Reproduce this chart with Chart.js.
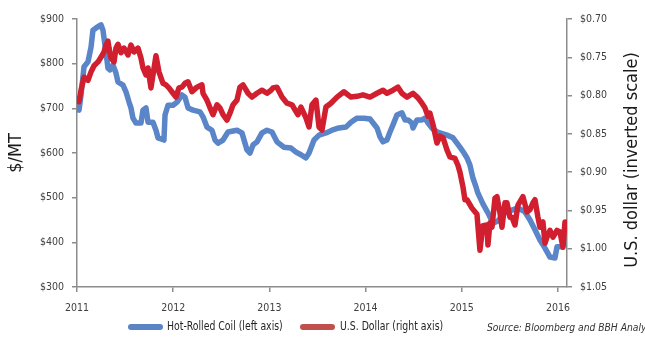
<!DOCTYPE html>
<html>
<head>
<meta charset="utf-8">
<script src="https://cdn.jsdelivr.net/npm/chart.js@4.4.1/dist/chart.umd.min.js"></script>
<style>
  html, body { margin: 0; padding: 0; background: #fff; }
  #wrap { position: relative; width: 645px; height: 346px; }
</style>
</head>
<body>
<div id="wrap"><canvas id="steelChart"></canvas></div>
<script>
// Hot-rolled coil price, $/MT (left axis)
const hrcYears = [
  2011.021, 2011.042, 2011.073, 2011.114, 2011.146, 2011.166, 2011.198, 2011.249, 2011.270, 2011.281,
  2011.301, 2011.322, 2011.343, 2011.374, 2011.405, 2011.426, 2011.478, 2011.509, 2011.541, 2011.561,
  2011.582, 2011.613, 2011.665, 2011.686, 2011.717, 2011.738, 2011.790, 2011.821, 2011.842, 2011.904,
  2011.915, 2011.946, 2011.998, 2012.040, 2012.091, 2012.123, 2012.154, 2012.206, 2012.279, 2012.310,
  2012.351, 2012.403, 2012.435, 2012.466, 2012.518, 2012.570, 2012.663, 2012.715, 2012.767, 2012.798,
  2012.830, 2012.871, 2012.923, 2012.975, 2013.027, 2013.079, 2013.152, 2013.225, 2013.277, 2013.328,
  2013.380, 2013.412, 2013.464, 2013.516, 2013.588, 2013.651, 2013.723, 2013.796, 2013.848, 2013.911,
  2013.983, 2014.046, 2014.119, 2014.150, 2014.181, 2014.222, 2014.254, 2014.285, 2014.326, 2014.378,
  2014.410, 2014.441, 2014.482, 2014.493, 2014.534, 2014.586, 2014.617, 2014.649, 2014.690, 2014.742,
  2014.805, 2014.846, 2014.909, 2014.950, 2014.981, 2015.023, 2015.054, 2015.085, 2015.116, 2015.148,
  2015.168, 2015.220, 2015.272, 2015.324, 2015.376, 2015.449, 2015.522, 2015.584, 2015.657, 2015.709,
  2015.761, 2015.813, 2015.865, 2015.917, 2015.969, 2015.990, 2016.042, 2016.062
];
const hrcPrices = [
  696, 730, 793, 804, 837, 875, 880, 887, 875, 857,
  826, 790, 786, 797, 779, 759, 752, 737, 714, 701,
  678, 667, 667, 696, 701, 669, 669, 651, 634, 629,
  685, 707, 707, 714, 730, 725, 701, 696, 692, 681,
  658, 651, 629, 622, 629, 647, 651, 645, 607, 600,
  618, 625, 645, 651, 647, 625, 613, 611, 602, 596,
  589, 600, 629, 640, 645, 651, 656, 658, 669, 678,
  678, 676, 656, 636, 625, 629, 647, 663, 685, 690,
  674, 674, 667, 656, 674, 674, 678, 667, 656, 647,
  643, 640, 634, 622, 613, 600, 589, 573, 544, 524,
  510, 486, 466, 443, 448, 466, 472, 477, 468, 450,
  428, 405, 387, 367, 365, 390, 390, 394
];

// U.S. dollar (right axis, inverted)
const usdYears = [
  2011.021, 2011.042, 2011.073, 2011.114, 2011.146, 2011.177, 2011.218, 2011.249, 2011.281, 2011.301,
  2011.322, 2011.333, 2011.353, 2011.385, 2011.405, 2011.426, 2011.457, 2011.489, 2011.530, 2011.561,
  2011.593, 2011.634, 2011.665, 2011.686, 2011.717, 2011.738, 2011.769, 2011.790, 2011.821, 2011.852,
  2011.894, 2011.925, 2011.956, 2011.998, 2012.029, 2012.060, 2012.091, 2012.123, 2012.154, 2012.195,
  2012.247, 2012.299, 2012.310, 2012.351, 2012.383, 2012.414, 2012.455, 2012.486, 2012.518, 2012.559,
  2012.590, 2012.622, 2012.663, 2012.694, 2012.726, 2012.778, 2012.819, 2012.871, 2012.923, 2012.975,
  2013.017, 2013.037, 2013.079, 2013.131, 2013.183, 2013.235, 2013.277, 2013.297, 2013.328, 2013.380,
  2013.412, 2013.443, 2013.484, 2013.516, 2013.547, 2013.588, 2013.640, 2013.703, 2013.775, 2013.848,
  2013.911, 2013.973, 2014.046, 2014.119, 2014.181, 2014.222, 2014.285, 2014.337, 2014.378, 2014.430,
  2014.493, 2014.545, 2014.586, 2014.617, 2014.649, 2014.669, 2014.701, 2014.742, 2014.773, 2014.805,
  2014.846, 2014.877, 2014.929, 2014.960, 2014.981, 2015.012, 2015.033, 2015.054, 2015.106, 2015.158,
  2015.189, 2015.220, 2015.262, 2015.272, 2015.293, 2015.314, 2015.345, 2015.366, 2015.397, 2015.418,
  2015.449, 2015.470, 2015.501, 2015.522, 2015.553, 2015.584, 2015.636, 2015.678, 2015.709, 2015.740,
  2015.761, 2015.792, 2015.813, 2015.844, 2015.865, 2015.886, 2015.917, 2015.948, 2015.990, 2016.021,
  2016.052, 2016.073
];
const usdValues = [
  0.808, 0.793, 0.776, 0.780, 0.769, 0.761, 0.756, 0.750, 0.743, 0.734,
  0.729, 0.738, 0.751, 0.756, 0.738, 0.733, 0.744, 0.738, 0.747, 0.734,
  0.743, 0.738, 0.751, 0.764, 0.773, 0.764, 0.790, 0.773, 0.748, 0.769,
  0.784, 0.786, 0.790, 0.797, 0.802, 0.790, 0.789, 0.784, 0.782, 0.795,
  0.789, 0.786, 0.797, 0.806, 0.816, 0.825, 0.812, 0.816, 0.825, 0.832,
  0.823, 0.812, 0.806, 0.789, 0.786, 0.797, 0.802, 0.797, 0.793, 0.797,
  0.793, 0.790, 0.789, 0.802, 0.810, 0.812, 0.821, 0.825, 0.815, 0.829,
  0.841, 0.812, 0.806, 0.841, 0.845, 0.815, 0.810, 0.802, 0.795, 0.802,
  0.801, 0.799, 0.802, 0.797, 0.793, 0.797, 0.793, 0.789, 0.797, 0.802,
  0.797, 0.803, 0.810, 0.816, 0.827, 0.823, 0.838, 0.862, 0.853, 0.855,
  0.871, 0.880, 0.882, 0.891, 0.900, 0.919, 0.936, 0.936, 0.947, 0.955,
  1.002, 0.970, 0.969, 0.995, 0.966, 0.972, 0.934, 0.932, 0.953, 0.972,
  0.940, 0.940, 0.959, 0.959, 0.969, 0.943, 0.932, 0.952, 0.949, 0.940,
  0.936, 0.959, 0.972, 0.965, 0.993, 0.985, 0.976, 0.985, 0.976, 0.978,
  0.998, 0.965
];

const seriesNames = ['Hot-Rolled Coil (left axis)', 'U.S. Dollar (right axis)'];
const leftTitle = '$/MT';
const rightTitle = 'U.S. dollar (inverted scale)';
const sourceNote = 'Source: Bloomberg and BBH Analysis';

const FONT = "'Liberation Sans Narrow', 'DejaVu Sans Condensed', 'Roboto', sans-serif";
const AXIS_GREY = '#8c8c8c';
const TICK_TEXT = '#404040';
const BLUE = '#5a85c8';
const RED = '#d21f30';
const LEGEND_COLORS = ['#5b84c4', '#c0504d'];

function pairs(xs, ys) {
  return xs.map((x, i) => ({ x: x, y: ys[i] }));
}

// text squeezed sideways so it reads like a narrow face
function narrowText(ctx, text, x, y, squeeze) {
  ctx.save();
  ctx.translate(x, y);
  ctx.scale(squeeze, 1);
  ctx.fillText(text, 0, 0);
  ctx.restore();
}

// right axis title (reads bottom-to-top), legend row and source line
const extras = {
  id: 'extras',
  afterDraw(chart) {
    const { ctx } = chart;
    ctx.save();

    ctx.fillStyle = '#1a1a1a';
    ctx.font = '18px ' + FONT;
    ctx.textAlign = 'center';
    ctx.textBaseline = 'middle';
    ctx.translate(632, 160);
    ctx.rotate(-Math.PI / 2);
    ctx.fillText(rightTitle, 0, 0);
    ctx.setTransform(1, 0, 0, 1, 0, 0);

    const legendY = 327;
    const items = [{ x: 128, tx: 167 }, { x: 300, tx: 340 }];
    ctx.textAlign = 'left';
    ctx.font = '12.5px ' + FONT;
    items.forEach((it, i) => {
      ctx.fillStyle = LEGEND_COLORS[i];
      ctx.beginPath();
      ctx.roundRect(it.x, legendY - 3, 35, 6, 3);
      ctx.fill();
      ctx.fillStyle = '#262626';
      narrowText(ctx, seriesNames[i], it.tx, legendY, 0.83);
    });

    ctx.font = 'italic 11px ' + FONT;
    ctx.fillStyle = '#333333';
    narrowText(ctx, sourceNote, 487, legendY + 1, 0.93);

    ctx.restore();
  }
};

const axisGrid = {
  drawOnChartArea: false,
  drawTicks: true,
  tickLength: 5,
  color: AXIS_GREY,
  lineWidth: 1.5
};
const axisBorder = { display: true, color: AXIS_GREY, width: 1.5 };
const tickFont = { family: FONT, size: 10.5 };

const config = {
  type: 'line',
  data: {
    datasets: [
      {
        label: seriesNames[0],
        data: pairs(hrcYears, hrcPrices),
        yAxisID: 'y',
        borderColor: BLUE,
        borderWidth: 5.5,
        pointRadius: 0,
        tension: 0,
        borderJoinStyle: 'round',
        borderCapStyle: 'round',
        order: 1
      },
      {
        label: seriesNames[1],
        data: pairs(usdYears, usdValues),
        yAxisID: 'y1',
        borderColor: RED,
        borderWidth: 5.5,
        pointRadius: 0,
        tension: 0,
        borderJoinStyle: 'round',
        borderCapStyle: 'round',
        order: 0
      }
    ]
  },
  options: {
    responsive: true,
    maintainAspectRatio: false,
    animation: false,
    layout: { padding: { top: 19, left: 0, right: 0, bottom: 0 } },
    plugins: {
      legend: { display: false },
      tooltip: { enabled: false }
    },
    scales: {
      x: {
        type: 'linear',
        min: 2011,
        max: 2016.094,
        grid: axisGrid,
        border: axisBorder,
        ticks: {
          stepSize: 1,
          includeBounds: false,
          autoSkip: false,
          maxRotation: 0,
          padding: 10,
          color: TICK_TEXT,
          font: tickFont,
          callback: v => String(v)
        },
        afterFit: s => { s.height = 59; }
      },
      y: {
        position: 'left',
        min: 300,
        max: 900,
        grid: axisGrid,
        border: axisBorder,
        ticks: {
          stepSize: 100,
          padding: 8,
          color: TICK_TEXT,
          font: tickFont,
          callback: v => '$' + v
        },
        title: {
          display: true,
          text: leftTitle,
          color: '#1a1a1a',
          font: { family: FONT, size: 18 },
          padding: { top: 6, bottom: 0 }
        },
        afterFit: s => { s.width = 77; }
      },
      y1: {
        position: 'right',
        reverse: true,
        min: 0.70,
        max: 1.05,
        grid: axisGrid,
        border: axisBorder,
        ticks: {
          stepSize: 0.05,
          padding: 8,
          color: TICK_TEXT,
          font: tickFont,
          callback: v => '$' + v.toFixed(2)
        },
        afterFit: s => { s.width = 78; }
      }
    }
  },
  plugins: [extras]
};

new Chart(document.querySelector('#steelChart'), config);
</script>
</body>
</html>
